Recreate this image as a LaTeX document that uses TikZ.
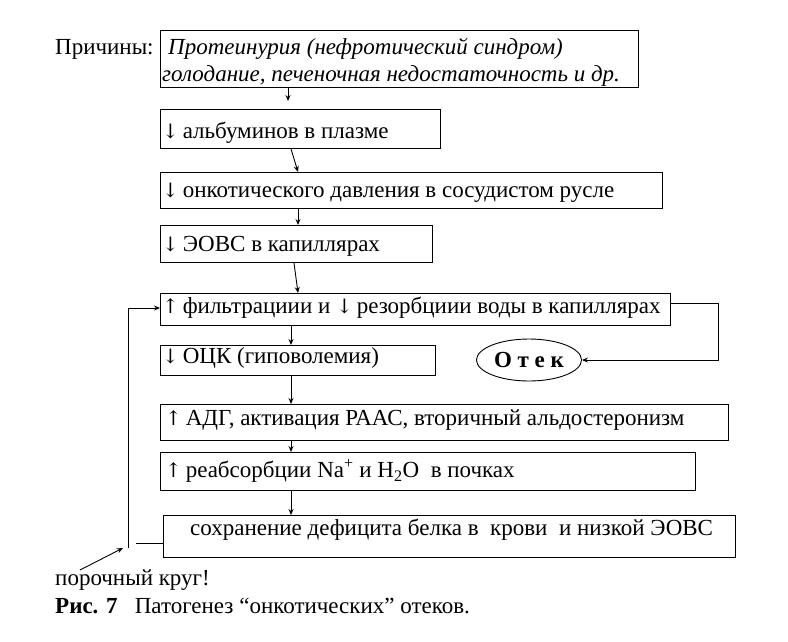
\documentclass[tikz,border=0pt]{standalone}
\usepackage{fontspec}
\setmainfont{Liberation Serif}
\newfontfamily\arrf{DejaVu Serif}
\usetikzlibrary{shapes.geometric,arrows.meta}
\newcommand{\fsz}{\fontsize{23}{27}\selectfont}
\newcommand{\dn}{{\arrf\fontsize{20}{24}\selectfont ↓}}
\newcommand{\up}{{\arrf\fontsize{20}{24}\selectfont ↑}}
\begin{document}
\begin{tikzpicture}[x=1pt,y=-1pt,
  box/.style={draw,line width=0.9pt,rectangle,inner sep=0,anchor=north west},
  txt/.style={anchor=west,inner sep=0,font=\fsz,text height=1.5ex,text depth=0.25ex},
  arr/.style={line width=0.9pt,-{Stealth[length=6pt,width=5pt]}},
  ln/.style={line width=0.9pt}]
\useasboundingbox (0,0) rectangle (788,641);
% boxes
\node[box,minimum width=478,minimum height=57] (b1) at (160,30) {};
\node[box,minimum width=280,minimum height=39] (b2) at (160,109) {};
\node[box,minimum width=502,minimum height=36] (b3) at (160,172) {};
\node[box,minimum width=272,minimum height=37] (b4) at (160,225) {};
\node[box,minimum width=510,minimum height=32] (b5) at (160,293) {};
\node[box,minimum width=275,minimum height=30] (b6) at (160,345) {};
\node[box,minimum width=568,minimum height=36] (b7) at (160,404) {};
\node[box,minimum width=535,minimum height=38] (b8) at (160,452) {};
\node[box,minimum width=572,minimum height=42] (b9) at (163,515) {};
\node[draw,line width=0.9pt,ellipse,minimum width=105,minimum height=42,inner sep=0,font=\fsz\bfseries] (otek) at (529,360) {О т е к};
% texts
\node[txt] (prich) at (55,52) {Причины:};
\node[txt,font=\fsz\itshape] (t1a) at (168,52) {Протеинурия (нефротический синдром)};
\node[txt,font=\fsz\itshape] (t1b) at (162,79) {голодание, печеночная недостаточность и др.};
\node[txt] (t2) at (162,136) {\dn\,альбуминов в плазме};
\node[txt] (t3) at (162,195) {\dn\,онкотического давления в сосудистом русле};
\node[txt] (t4) at (162,249) {\dn\,ЭОВС в капиллярах};
\node[txt] (t5) at (162,311) {\up\,фильтрациии и \dn\,резорбциии воды в капиллярах};
\node[txt] (t6) at (162,361) {\dn\,ОЦК (гиповолемия)};
\node[txt] (t7) at (165,423) {\up\,АДГ, активация РААС, вторичный альдостеронизм};
\node[txt] (t8) at (165,475) {\up\,реабсорбции Na\textsuperscript{+} и H\textsubscript{2}O\ \ в почках};
\node[txt] (t9) at (190,533) {сохранение дефицита белка в\ \ крови\ \ и низкой ЭОВС};
\node[txt] (por) at (55,583) {порочный круг!};
\node[txt] (cap) at (55,611) {\textbf{Рис. 7}\ \ \ Патогенез “онкотических” отеков.};
% connectors
\draw[arr,shorten >=8pt] (b1.south -| 288,0) -- (b2.north -| 288,0);
\draw[arr] (b2.south -| 291,0) -- (b3.north -| 298,0);
\draw[arr] (b3.south -| 298,0) -- (b4.north -| 298,0);
\draw[arr] (b4.south -| 294,0) -- (b5.north -| 298,0);
\draw[arr] (b5.south -| 291,0) -- (b6.north -| 291,0);
\draw[arr] (b6.south -| 291,0) -- (b7.north -| 291,0);
\draw[arr] (b7.south -| 291,0) -- (b8.north -| 291,0);
\draw[arr] (b8.south -| 291,0) -- (b9.north -| 291,0);
\coordinate (r1) at (718,303);
\draw[arr] (b5.east |- r1) -- (r1) |- (otek.east);
\coordinate (l1) at (136,543);
\coordinate (l2) at (128,548);
\coordinate (l3) at (128,308);
\draw[ln] (b9.west |- l1) -- (l1);
\draw[arr] (l2) -- (l3) -- (b5.west |- l3);
\coordinate (pa) at (123,548);
\draw[arr] (80,570) -- (pa);
\end{tikzpicture}
\end{document}
